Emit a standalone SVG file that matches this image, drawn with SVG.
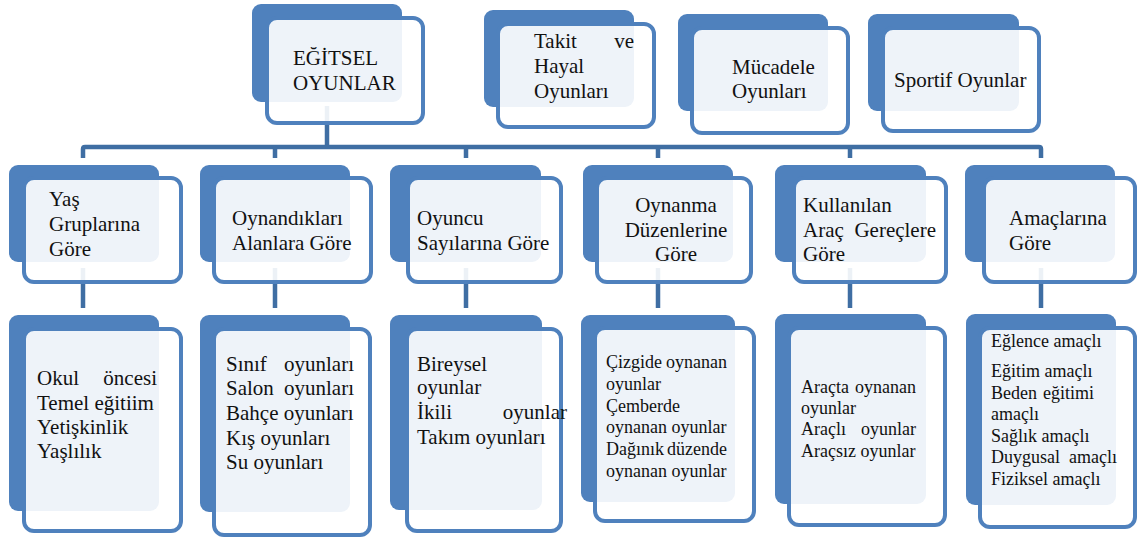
<svg xmlns="http://www.w3.org/2000/svg" width="1139" height="538" viewBox="0 0 1139 538">
<style>
.bk{fill:#4F81BD}
.fr{fill:#FFFFFF;fill-opacity:0.9;stroke:#4F81BD;stroke-width:4}
.t{font-family:'Times New Roman','Liberation Serif',Tinos,'DejaVu Serif','Noto Serif',serif;font-size:21px;fill:#111}
.s{font-family:'Times New Roman','Liberation Serif',Tinos,'DejaVu Serif','Noto Serif',serif;font-size:18px;fill:#111}
.c{fill:none;stroke:#3F6EA3;stroke-width:4.5}
</style>
<rect width="1139" height="538" fill="#FFFFFF"/>
<g id="connectors">
<path class="c" d="M327,106 V147"/>
<path class="c" d="M83,158 V149 Q83,147 85,147 H1039 Q1041,147 1041,149 V158"/>
<path class="c" d="M275,147 V158 M466,147 V158 M658,147 V158 M850,147 V158"/>
<path class="c" d="M83,268 V308 M275,268 V308 M466,268 V308 M658,268 V308 M850,268 V308 M1041,268 V308"/>
</g>
<g id="egitsel-oyunlar">
<rect class="bk" x="252" y="4" width="150" height="98" rx="9"/>
<rect class="fr" x="267" y="18" width="156" height="105" rx="10"/>
<text class="t" x="293" y="65">EĞİTSEL</text>
<text class="t" x="293" y="90">OYUNLAR</text>
</g>
<g id="takit-hayal">
<rect class="bk" x="484" y="10" width="150" height="97" rx="9"/>
<rect class="fr" x="498" y="24" width="156" height="103" rx="10"/>
<text class="t" x="534" y="48">Takit</text>
<text class="t" x="634" y="48" text-anchor="end">ve</text>
<text class="t" x="534" y="73">Hayal</text>
<text class="t" x="534" y="98">Oyunları</text>
</g>
<g id="mucadele">
<rect class="bk" x="678" y="14" width="150" height="97" rx="9"/>
<rect class="fr" x="692" y="28" width="156" height="105" rx="10"/>
<text class="t" x="732" y="74">Mücadele</text>
<text class="t" x="732" y="98">Oyunları</text>
</g>
<g id="sportif">
<rect class="bk" x="868" y="14" width="151" height="97" rx="9"/>
<rect class="fr" x="883" y="28" width="156" height="103" rx="10"/>
<text class="t" x="894" y="87">Sportif Oyunlar</text>
</g>
<g id="yas">
<rect class="bk" x="9" y="165" width="150" height="97" rx="9"/>
<rect class="fr" x="24" y="178" width="157" height="104" rx="10"/>
<text class="t" x="49" y="206">Yaş</text>
<text class="t" x="49" y="231">Gruplarına</text>
<text class="t" x="49" y="256">Göre</text>
</g>
<g id="alan">
<rect class="bk" x="200" y="165" width="150" height="97" rx="9"/>
<rect class="fr" x="214" y="178" width="157" height="104" rx="10"/>
<text class="t" x="232" y="225">Oynandıkları</text>
<text class="t" x="232" y="250">Alanlara Göre</text>
</g>
<g id="oyuncu">
<rect class="bk" x="390" y="165" width="151" height="97" rx="9"/>
<rect class="fr" x="408" y="178" width="153" height="104" rx="10"/>
<text class="t" x="417" y="225">Oyuncu</text>
<text class="t" x="417" y="250">Sayılarına Göre</text>
</g>
<g id="duzen">
<rect class="bk" x="583" y="165" width="150" height="97" rx="9"/>
<rect class="fr" x="597" y="178" width="154" height="104" rx="10"/>
<text class="t" x="676" y="212" text-anchor="middle">Oynanma</text>
<text class="t" x="676" y="237" text-anchor="middle">Düzenlerine</text>
<text class="t" x="676" y="261" text-anchor="middle">Göre</text>
</g>
<g id="arac">
<rect class="bk" x="775" y="165" width="151" height="97" rx="9"/>
<rect class="fr" x="794" y="178" width="152" height="104" rx="10"/>
<text class="t" x="803" y="212">Kullanılan</text>
<text class="t" x="803" y="237">Araç</text>
<text class="t" x="936" y="237" text-anchor="end">Gereçlere</text>
<text class="t" x="803" y="261">Göre</text>
</g>
<g id="amac">
<rect class="bk" x="965" y="165" width="150" height="97" rx="9"/>
<rect class="fr" x="984" y="178" width="151" height="104" rx="10"/>
<text class="t" x="1009" y="225">Amaçlarına</text>
<text class="t" x="1009" y="250">Göre</text>
</g>
<g id="yas-list">
<rect class="bk" x="9" y="315" width="150" height="196" rx="9"/>
<rect class="fr" x="24" y="329" width="157" height="202" rx="10"/>
<text class="t" x="37" y="385">Okul</text>
<text class="t" x="157" y="385" text-anchor="end">öncesi</text>
<text class="t" x="37" y="410">Temel eğitiim</text>
<text class="t" x="37" y="434">Yetişkinlik</text>
<text class="t" x="37" y="458">Yaşlılık</text>
</g>
<g id="alan-list">
<rect class="bk" x="200" y="315" width="150" height="197" rx="9"/>
<rect class="fr" x="214" y="329" width="156" height="206" rx="10"/>
<text class="t" x="226" y="371">Sınıf</text>
<text class="t" x="354" y="371" text-anchor="end">oyunları</text>
<text class="t" x="226" y="395">Salon</text>
<text class="t" x="354" y="395" text-anchor="end">oyunları</text>
<text class="t" x="226" y="420">Bahçe oyunları</text>
<text class="t" x="226" y="445">Kış oyunları</text>
<text class="t" x="226" y="469">Su oyunları</text>
</g>
<g id="oyuncu-list">
<rect class="bk" x="390" y="315" width="152" height="195" rx="9"/>
<rect class="fr" x="407" y="329" width="154" height="202" rx="10"/>
<text class="t" x="417" y="371">Bireysel</text>
<text class="t" x="417" y="394">oyunlar</text>
<text class="t" x="417" y="419">İkili</text>
<text class="t" x="567" y="419" text-anchor="end">oyunlar</text>
<text class="t" x="417" y="444">Takım oyunları</text>
</g>
<g id="duzen-list">
<rect class="bk" x="581" y="315" width="154" height="187" rx="9"/>
<rect class="fr" x="595" y="328" width="159" height="193" rx="10"/>
<text class="s" x="606" y="368">Çizgide</text>
<text class="s" x="727" y="368" text-anchor="end">oynanan</text>
<text class="s" x="606" y="390">oyunlar</text>
<text class="s" x="606" y="412">Çemberde</text>
<text class="s" x="606" y="433">oynanan oyunlar</text>
<text class="s" x="606" y="455">Dağınık</text>
<text class="s" x="727" y="455" text-anchor="end">düzende</text>
<text class="s" x="606" y="477">oynanan oyunlar</text>
</g>
<g id="arac-list">
<rect class="bk" x="775" y="314" width="151" height="190" rx="9"/>
<rect class="fr" x="789" y="328" width="156" height="197" rx="10"/>
<text class="s" x="801" y="393">Araçta</text>
<text class="s" x="916" y="393" text-anchor="end">oynanan</text>
<text class="s" x="801" y="414">oyunlar</text>
<text class="s" x="801" y="435">Araçlı</text>
<text class="s" x="916" y="435" text-anchor="end">oyunlar</text>
<text class="s" x="801" y="457">Araçsız oyunlar</text>
</g>
<g id="amac-list">
<rect class="bk" x="966" y="314" width="150" height="191" rx="9"/>
<rect class="fr" x="980" y="328" width="155" height="199" rx="10"/>
<text class="s" x="991" y="347">Eğlence amaçlı</text>
<text class="s" x="991" y="377">Eğitim amaçlı</text>
<text class="s" x="991" y="399">Beden</text>
<text class="s" x="1094" y="399" text-anchor="end">eğitimi</text>
<text class="s" x="991" y="420">amaçlı</text>
<text class="s" x="991" y="442">Sağlık amaçlı</text>
<text class="s" x="991" y="463">Duygusal</text>
<text class="s" x="1117" y="463" text-anchor="end">amaçlı</text>
<text class="s" x="991" y="485">Fiziksel amaçlı</text>
</g>
</svg>
